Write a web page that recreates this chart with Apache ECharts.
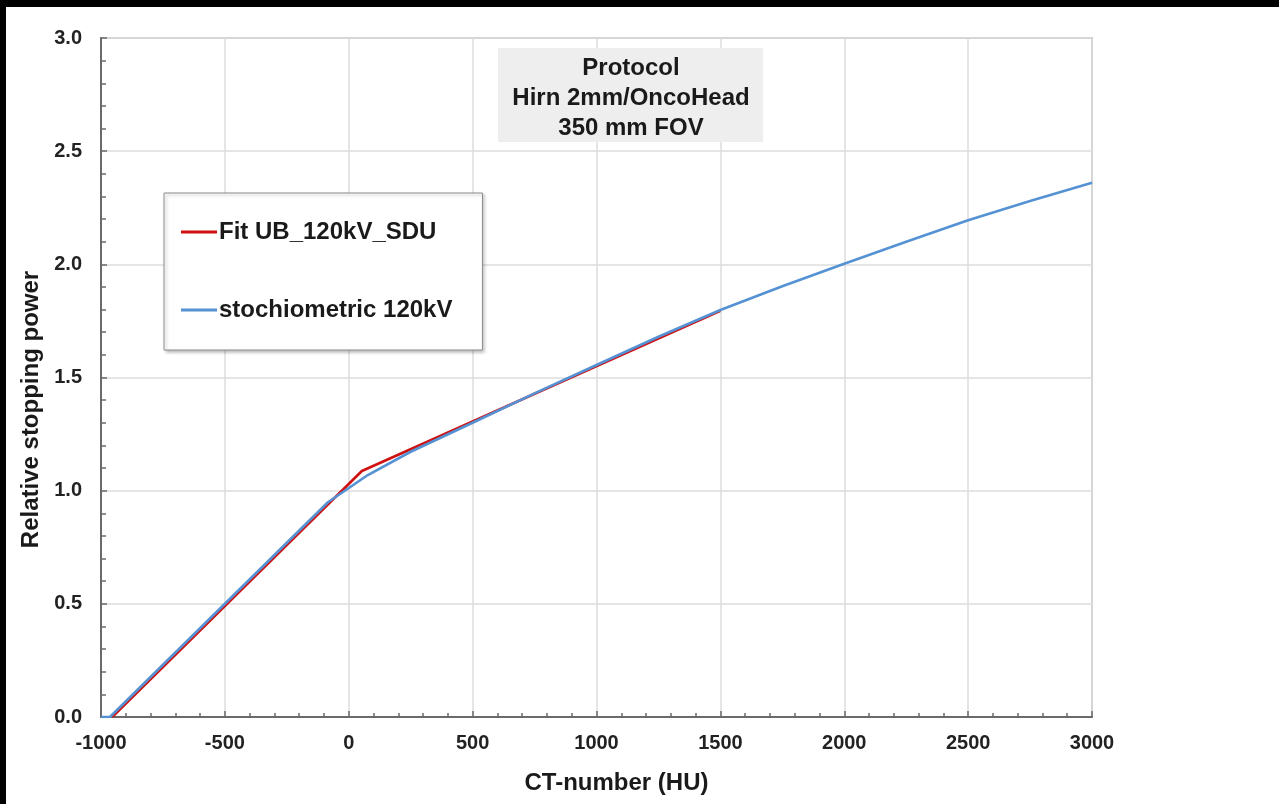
<!DOCTYPE html>
<html>
<head>
<meta charset="utf-8">
<title>Relative stopping power vs CT-number</title>
<script src="https://cdn.jsdelivr.net/npm/echarts@6/dist/echarts.min.js"></script>
<style>
  html, body { margin: 0; padding: 0; background: #ffffff; }
  #chart { width: 1279px; height: 804px; }
</style>
</head>
<body>
<div id="chart"></div>
<script>
// Calibration curves: CT-number (HU) -> relative stopping power
const fitName = 'Fit UB_120kV_SDU';
const fitHU = [-955, 53, 1500];
const fitRSP = [0, 1.087, 1.795];

const stoichName = 'stochiometric 120kV';
const stoichHU = [-1000, -964, -84, 77, 250, 500, 750, 1000, 1250, 1500, 1750, 2000, 2250, 2500, 2750, 3000];
const stoichRSP = [0, 0, 0.949, 1.069, 1.172, 1.300, 1.430, 1.555, 1.680, 1.798, 1.903, 2.003, 2.100, 2.195, 2.280, 2.360];

const xRange = [-1000, 3000, 500];
const yRange = [0, 3.0, 0.5];

const protocolLines = ['Protocol', 'Hirn 2mm/OncoHead', '350 mm FOV'];

const pairs = (xs, ys) => xs.map((x, i) => [x, ys[i]]);
const FONT = '"Liberation Sans", Arial, sans-serif';

const chart = echarts.init(document.getElementById('chart'), null, { renderer: 'canvas' });

chart.setOption({
  backgroundColor: '#ffffff',
  animation: false,
  grid: {
    left: 101, top: 38, right: 187, bottom: 87,
    show: true, borderColor: '#c4c4c4', borderWidth: 2, backgroundColor: '#ffffff'
  },
  legend: {
    orient: 'vertical',
    left: 164, top: 193,
    backgroundColor: '#ffffff',
    borderColor: '#8c8c8c', borderWidth: 1,
    shadowColor: 'rgba(0,0,0,0.25)', shadowBlur: 3, shadowOffsetX: 2, shadowOffsetY: 2,
    padding: [27, 30, 28, 17],
    itemGap: 54,
    itemWidth: 36, itemHeight: 3,
    icon: 'rect',
    textStyle: { fontFamily: FONT, fontWeight: 'bold', fontSize: 24, color: '#1a1a1a', padding: [0, 0, 0, -3] },
    data: [fitName, stoichName]
  },
  xAxis: {
    type: 'value',
    min: xRange[0], max: xRange[1], interval: xRange[2],
    name: 'CT-number (HU)',
    nameLocation: 'middle',
    nameGap: 54,
    nameTextStyle: { fontFamily: FONT, fontWeight: 'bold', fontSize: 24, color: '#1a1a1a', padding: [0, 0, 0, 40] },
    axisLine: { show: true, onZero: false, lineStyle: { color: '#6a6a6a', width: 2 } },
    axisTick: { show: true, inside: true, length: 6, lineStyle: { color: '#6a6a6a', width: 1.5 } },
    minorTick: { show: true, splitNumber: 5, length: 4, lineStyle: { color: '#6a6a6a', width: 1.5 } },
    splitLine: { show: true, lineStyle: { color: '#dcdcdc', width: 1.5 } },
    axisLabel: {
      margin: 16, fontFamily: FONT, fontWeight: 'bold', fontSize: 20, color: '#222222',
      formatter: v => String(v), showMinLabel: true, showMaxLabel: true
    }
  },
  yAxis: {
    type: 'value',
    min: yRange[0], max: yRange[1], interval: yRange[2],
    name: 'Relative stopping power',
    nameLocation: 'middle',
    nameRotate: 90,
    nameGap: 56,
    nameTextStyle: { fontFamily: FONT, fontWeight: 'bold', fontSize: 24, color: '#1a1a1a', padding: [0, 64, 0, 0] },
    axisLine: { show: true, onZero: false, lineStyle: { color: '#6a6a6a', width: 2 } },
    axisTick: { show: true, inside: true, length: 6, lineStyle: { color: '#6a6a6a', width: 1.5 } },
    minorTick: { show: true, splitNumber: 5, length: 5, lineStyle: { color: '#6a6a6a', width: 1.5 } },
    splitLine: { show: true, lineStyle: { color: '#dcdcdc', width: 1.5 } },
    axisLabel: {
      margin: 19, fontFamily: FONT, fontWeight: 'bold', fontSize: 20, color: '#222222',
      formatter: v => v.toFixed(1), showMinLabel: true, showMaxLabel: true
    }
  },
  series: [
    {
      name: fitName, type: 'line', data: pairs(fitHU, fitRSP),
      showSymbol: false, symbol: 'none',
      lineStyle: { color: '#cf1111', width: 2.6 },
      itemStyle: { color: '#cf1111' }, z: 2
    },
    {
      name: stoichName, type: 'line', data: pairs(stoichHU, stoichRSP),
      showSymbol: false, symbol: 'none',
      lineStyle: { color: '#5592d4', width: 2.6 },
      itemStyle: { color: '#5592d4' }, z: 3
    }
  ],
  graphic: [
    // dark frame strips along the top and left edges
    { type: 'rect', z: 100, shape: { x: 0, y: 0, width: 1279, height: 7 }, style: { fill: '#000000' } },
    { type: 'rect', z: 100, shape: { x: 0, y: 0, width: 6, height: 804 }, style: { fill: '#000000' } },
    // protocol annotation box
    { type: 'rect', z: 50, shape: { x: 498, y: 48, width: 265, height: 94 }, style: { fill: '#eeeeee' } },
    {
      type: 'text', z: 51, x: 631, y: 53,
      style: {
        text: protocolLines.join('\n'),
        font: 'bold 24px ' + FONT,
        fill: '#1a1a1a',
        textAlign: 'center', textVerticalAlign: 'top',
        lineHeight: 30
      }
    }
  ]
});
</script>
</body>
</html>
